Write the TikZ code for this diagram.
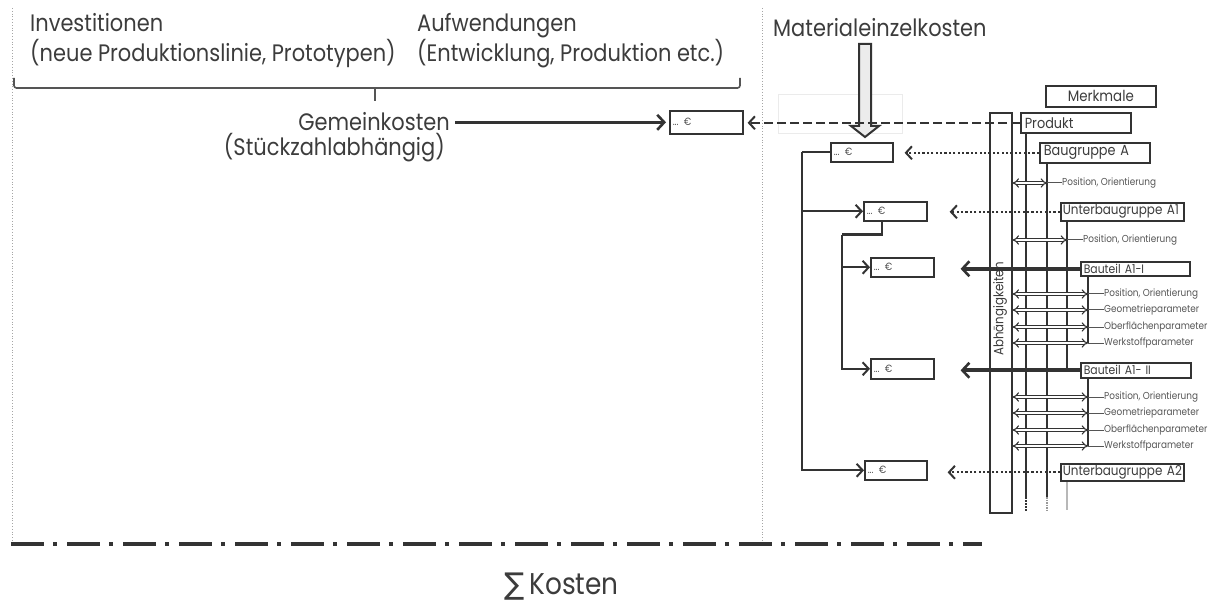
\documentclass[tikz,border=0pt]{standalone}
\usepackage{fontspec}
\setmainfont{Poppins}[FakeStretch=0.88]
\newfontfamily\symbolfont{DejaVu Sans}
\usetikzlibrary{arrows.meta,calc}

\definecolor{ink}{HTML}{333333}
\definecolor{txt}{HTML}{3C3C3C}
\definecolor{soft}{HTML}{555555}
\definecolor{faint}{HTML}{EBEBEB}

\tikzset{
  bigtext/.style={text=txt, inner sep=0pt, font=\fontsize{23.8}{26}\selectfont},
  frame/.style={draw=ink, line width=1.6pt, fill=white, rectangle, anchor=north west,
                inner ysep=0pt, align=left},
  itembox/.style={frame, inner xsep=4pt, text=txt, font=\fontsize{14.6}{16}\selectfont},
  eurobox/.style={frame, inner xsep=3pt, text=soft, font=\fontsize{10.5}{12}\selectfont},
  smalltext/.style={text=soft, inner sep=0pt, font=\fontsize{10.1}{11}\selectfont},
  chev/.tip={Straight Barb[length=6pt,width=13pt,line width=2pt]},
  bigchev/.tip={Straight Barb[length=7pt,width=15pt,line width=2.6pt]},
  tree/.style={draw=ink, line width=2.3pt},
  treearrow/.style={tree, -chev},
  solidarrow/.style={draw=ink, line width=3.4pt, -bigchev},
  heavyarrow/.style={draw=ink, line width=4pt, -bigchev},
  dasharrow/.style={draw=ink, line width=2.2pt, dash pattern=on 9pt off 4pt, -chev},
  dotarrow/.style={draw=ink, line width=2.3pt, dash pattern=on 2.2pt off 2.2pt, -chev},
  vline/.style={draw=ink, line width=1.7pt},
  dbl/.style={draw=ink, line width=1.1pt, double=white, double distance=2pt, {Implies}-{Implies}},
  tickline/.style={draw=soft, line width=1pt},
  divider/.style={draw=gray!70, line width=0.8pt, dotted},
}

\begin{document}
\begin{tikzpicture}[x=1pt,y=-1pt]
\useasboundingbox (0,0) rectangle (1211,604);

% column dividers
\draw[divider] (12,8) -- (12,544);
\draw[divider] (762,8) -- (762,544);

% overhead costs
\node[bigtext, anchor=base west] (inv) at (30,32) {Investitionen};
\node[bigtext, anchor=base west] (invsub) at (30,62) {(neue Produktionslinie, Prototypen)};
\node[bigtext, anchor=base west] (auf) at (417,32) {Aufwendungen};
\node[bigtext, anchor=base west] (aufsub) at (417,62) {(Entwicklung, Produktion etc.)};
\draw[draw=soft, line width=1.6pt, rounded corners=2.5pt] (14,78) -- (14,88) -- (740,88) -- (740,78);
\draw[draw=soft, line width=1.6pt] (375,88) -- (375,101);
\node[bigtext, anchor=base east] (gk) at (450,131) {Gemeinkosten};
\node[bigtext, anchor=base east] (gksub) at (445,156) {(Stückzahlabhängig)};
\node[eurobox, minimum width=73pt, minimum height=23pt, text width=67pt] (e0) at (669,110) {... €};
\draw[solidarrow, shorten >=3pt] (gk.east |- e0.west) ++(5,0) -- (e0.west);

% direct material costs
\node[bigtext, anchor=base west] (mat) at (773,37) {Materialeinzelkosten};
\draw[draw=faint, line width=0.8pt] (778,94) rectangle (902,133);
\draw[draw=ink, line width=2pt, fill=gray!15, line join=miter]
  (859,44) -- (871,44) -- (871,126) -- (879,126) -- (865,137) -- (851,126) -- (859,126) -- cycle;

% dependency column and feature tree lines
\node[frame, minimum width=22pt, minimum height=400pt] (abh) at (989,112) {};
\node[text=txt, rotate=90, inner sep=0pt, font=\fontsize{13.4}{15}\selectfont] (abhtext) at (1000,309) {Abhängigkeiten};

\coordinate (vP) at (1026,132);
\coordinate (vB) at (1047,162);
\coordinate (vU) at (1067,220);
\coordinate (vT) at (1088,275);
\coordinate (vS) at (1088,377);
\coordinate (vW) at (1067,480);
\draw[vline] (vP) -- ++(0,365);
\draw[vline, dash pattern=on 1.5pt off 1.5pt] ($(vP)+(0,365)$) -- ++(0,15);
\draw[vline] (vB) -- ++(0,335);
\draw[vline, draw=ink!50, dash pattern=on 1.5pt off 1pt] ($(vB)+(0,335)$) -- ++(0,13);
\draw[vline] (vU) -- ++(0,150);
\draw[vline] (vT) -- ++(0,68);
\draw[vline] (vS) -- ++(0,69);
\draw[vline, draw=ink!35] (vW) -- ++(0,30);

% feature boxes
\node[itembox, minimum width=110pt, minimum height=21pt, text width=102pt, align=center, font=\fontsize{15.2}{16}\selectfont] (merk) at (1045,85) {Merkmale};
\node[itembox, minimum width=110pt, minimum height=20pt, text width=102pt] (prod) at (1020,112) {Produkt};
\node[itembox, minimum width=110pt, minimum height=20pt, text width=102pt] (bga) at (1039,142) {Baugruppe A};
\node[itembox, minimum width=123pt, minimum height=18pt, text width=119pt, inner xsep=2pt, font=\fontsize{13.6}{15}\selectfont] (uba1) at (1060,202) {\mbox{Unterbaugruppe A1}};
\node[itembox, minimum width=109pt, minimum height=14pt, text width=103pt, inner xsep=3pt, font=\fontsize{12.3}{14}\selectfont] (bt1) at (1080,261) {Bauteil A1-I};
\node[itembox, minimum width=110pt, minimum height=15pt, text width=104pt, inner xsep=3pt, font=\fontsize{12.3}{14}\selectfont] (bt2) at (1080,362) {Bauteil A1- II};
\node[itembox, minimum width=123pt, minimum height=17pt, text width=119pt, inner xsep=2pt, font=\fontsize{13.6}{15}\selectfont] (uba2) at (1060,463) {\mbox{Unterbaugruppe A2}};

% feature parameters
\node[smalltext, anchor=west] (pA) at (1062,183) {Position, Orientierung};
\node[smalltext, anchor=west] (pU) at (1083,240) {Position, Orientierung};
\node[smalltext, anchor=west] (t1a) at (1104,294) {Position, Orientierung};
\node[smalltext, anchor=west] (t1b) at (1104,310) {Geometrieparameter};
\node[smalltext, anchor=west] (t1c) at (1104,327) {Oberflächenparameter};
\node[smalltext, anchor=west] (t1d) at (1104,343) {Werkstoffparameter};
\node[smalltext, anchor=west] (t2a) at (1104,397) {Position, Orientierung};
\node[smalltext, anchor=west] (t2b) at (1104,413) {Geometrieparameter};
\node[smalltext, anchor=west] (t2c) at (1104,430) {Oberflächenparameter};
\node[smalltext, anchor=west] (t2d) at (1104,446) {Werkstoffparameter};

\draw[dbl] (abh.east |- pA.west) -- (vB |- pA.west);
\draw[tickline] (vB |- pA.west) -- (pA.west);
\draw[dbl] (abh.east |- pU.west) -- (vU |- pU.west);
\draw[tickline] (vU |- pU.west) -- (pU.west);
\foreach \p in {t1a,t1b,t1c,t1d}{
  \draw[dbl] (abh.east |- \p.west) -- (vT |- \p.west);
  \draw[tickline] (vT |- \p.west) -- (\p.west);
}
\foreach \p in {t2a,t2b,t2c,t2d}{
  \draw[dbl] (abh.east |- \p.west) -- (vS |- \p.west);
  \draw[tickline] (vS |- \p.west) -- (\p.west);
}

% cost boxes
\node[eurobox, minimum width=62pt, minimum height=19pt, text width=56pt] (e1) at (830,142) {... €};
\node[eurobox, minimum width=63pt, minimum height=19pt, text width=57pt] (e2) at (863,201) {... €};
\node[eurobox, minimum width=63pt, minimum height=19pt, text width=57pt] (e3) at (870,257) {... €};
\node[eurobox, minimum width=63pt, minimum height=20pt, text width=57pt] (e4) at (870,358) {... €};
\node[eurobox, minimum width=62pt, minimum height=19pt, text width=56pt] (e5) at (864,460) {... €};

% cost aggregation tree
\draw[tree] (e1.west) -- ++(-28,0) coordinate (tl);
\draw[treearrow] (tl) |- (e5.west);
\draw[treearrow] (tl |- e2.west) -- (e2.west);
\draw[tree] ($(e2.south west)+(19,0)$) -- ++(0,13) -- ++(-40,0) coordinate (tm);
\draw[treearrow] (tm) |- (e4.west);
\draw[treearrow] (tm |- e3.west) -- (e3.west);

% feature to cost connectors
\draw[dasharrow, shorten >=4pt] (prod.west) -- (prod.west -| e0.east);
\draw[dotarrow, shorten >=11pt] (bga.west) -- (bga.west -| e1.east);
\draw[dotarrow, shorten >=22pt] (uba1.west) -- (uba1.west -| e2.east);
\draw[heavyarrow, shorten >=26pt] (bt1.west) -- (bt1.west -| e3.east);
\draw[heavyarrow, shorten >=26pt] (bt2.west) -- (bt2.west -| e4.east);
\draw[dotarrow, shorten >=20pt] (uba2.west) -- (uba2.west -| e5.east);

% total
\draw[draw=ink, line width=4.4pt, dash pattern=on 33pt off 9pt on 4pt off 10pt] (11,544) -- (982,544);
\node[bigtext, anchor=base west, font=\fontsize{30}{32}\selectfont] (sum) at (504,594) {{\symbolfont\fontsize{30}{32}\selectfont ∑}\,Kosten};
\end{tikzpicture}
\end{document}
